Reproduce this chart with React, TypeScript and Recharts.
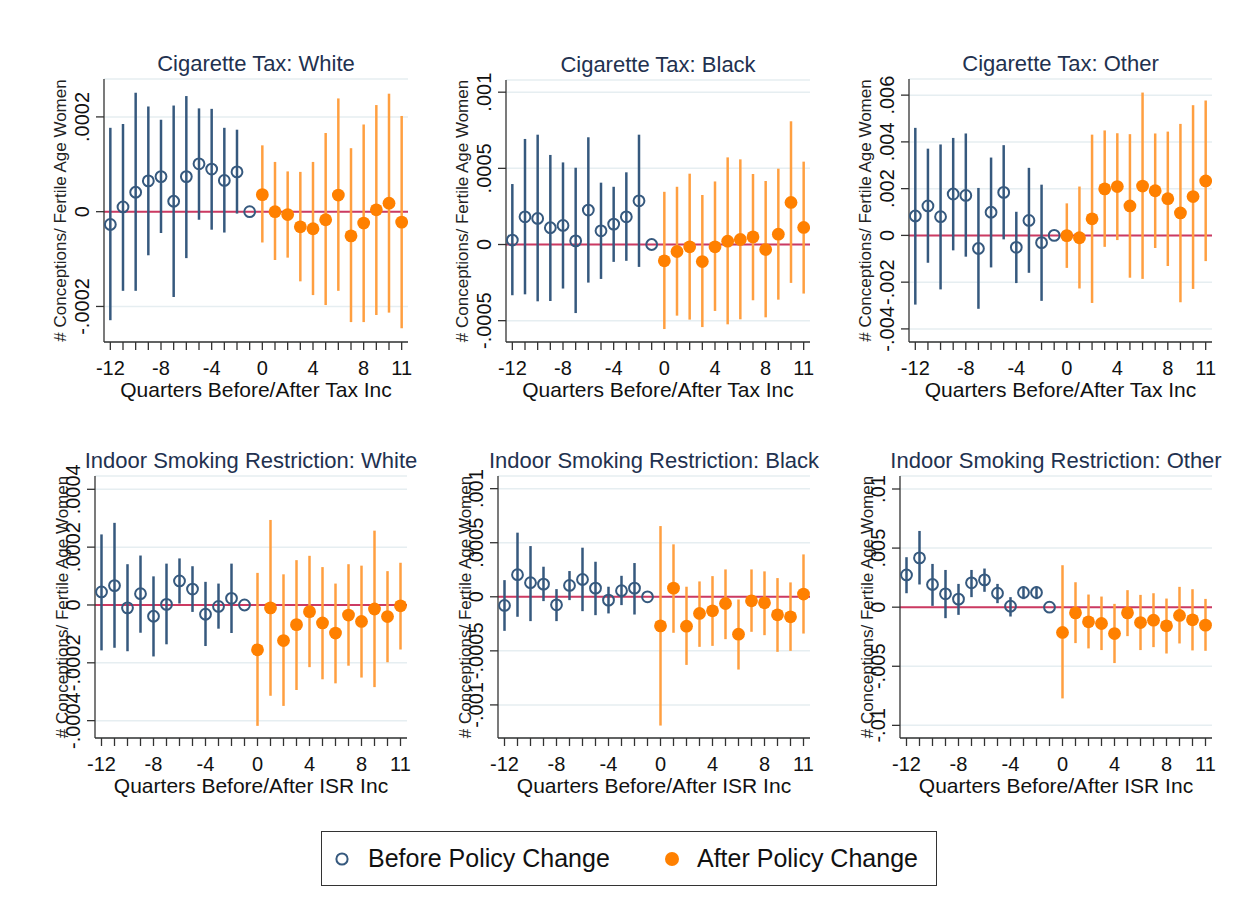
import React from 'react';
import { ScatterChart, Scatter, XAxis, YAxis, CartesianGrid, ReferenceLine, ErrorBar } from 'recharts';

const quarters = [-12, -11, -10, -9, -8, -7, -6, -5, -4, -3, -2, -1, 0, 1, 2, 3, 4, 5, 6, 7, 8, 9, 10, 11];
const xLabelQuarters = [-12, -8, -4, 0, 4, 8, 11];

// Cigarette tax, White (units of 1e-4)
const taxWhiteEst = [-0.27, 0.1, 0.41, 0.65, 0.74, 0.22, 0.74, 1.01, 0.9, 0.66, 0.84, 0, 0.36, 0.0, -0.06, -0.32, -0.36, -0.17, 0.35, -0.51, -0.24, 0.04, 0.18, -0.22];
const taxWhiteLo = [-2.29, -1.67, -1.67, -0.92, -0.45, -1.8, -0.98, -0.17, -0.38, -0.44, -0.04, 0, -0.65, -1.02, -0.97, -1.47, -1.76, -1.97, -1.67, -2.33, -2.33, -2.18, -2.13, -2.46];
const taxWhiteHi = [1.77, 1.85, 2.51, 2.22, 1.94, 2.24, 2.44, 2.18, 2.17, 1.77, 1.73, 0, 1.4, 1.05, 0.85, 0.84, 1.05, 1.66, 2.39, 1.34, 1.84, 2.25, 2.49, 2.02];
const taxWhiteTicks = [-2, 0, 2];
const taxWhiteTickLabels = ['-.0002', '0', '.0002'];

// Cigarette tax, Black (units of 1e-4)
const taxBlackEst = [0.29, 1.82, 1.71, 1.1, 1.25, 0.24, 2.26, 0.9, 1.34, 1.82, 2.87, 0, -1.07, -0.46, -0.15, -1.12, -0.15, 0.22, 0.33, 0.5, -0.33, 0.68, 2.76, 1.12];
const taxBlackLo = [-3.33, -3.27, -3.73, -3.71, -2.89, -4.5, -2.5, -2.26, -1.14, -1.07, -1.47, 0, -5.55, -4.67, -4.93, -5.42, -4.36, -5.24, -4.91, -3.66, -4.78, -3.62, -2.52, -3.22];
const taxBlackHi = [3.97, 6.93, 7.21, 5.88, 5.39, 5.04, 7.04, 4.06, 3.79, 4.74, 7.21, 0, 3.46, 3.79, 4.65, 3.25, 4.14, 5.72, 5.59, 4.63, 4.17, 4.98, 8.09, 5.44];
const taxBlackTicks = [-5, 0, 5, 10];
const taxBlackTickLabels = ['-.0005', '0', '.0005', '.001'];

// Cigarette tax, Other (units of 1e-3)
const taxOtherEst = [0.83, 1.26, 0.8, 1.77, 1.71, -0.56, 0.99, 1.84, -0.51, 0.64, -0.31, 0, -0.01, -0.1, 0.71, 1.99, 2.09, 1.26, 2.11, 1.91, 1.57, 0.96, 1.66, 2.33];
const taxOtherLo = [-2.96, -1.17, -2.31, -0.64, -0.91, -3.14, -1.37, -0.17, -2.04, -1.6, -2.8, 0, -1.39, -2.27, -2.89, -0.49, -0.2, -1.81, -1.86, -0.54, -1.31, -2.86, -2.29, -1.1];
const taxOtherHi = [4.6, 3.71, 3.89, 4.17, 4.36, 2.03, 3.33, 3.86, 1.01, 2.89, 2.17, 0, 1.37, 2.09, 4.31, 4.49, 4.37, 4.33, 6.11, 4.36, 4.44, 4.77, 5.57, 5.77];
const taxOtherTicks = [-4, -2, 0, 2, 4, 6];
const taxOtherTickLabels = ['-.004', '-.002', '0', '.002', '.004', '.006'];

// Indoor smoking restriction, White (units of 1e-4)
const isrWhiteEst = [0.45, 0.67, -0.1, 0.39, -0.39, 0.02, 0.83, 0.55, -0.32, -0.05, 0.23, 0, -1.55, -0.1, -1.23, -0.68, -0.23, -0.62, -0.97, -0.35, -0.57, -0.14, -0.4, -0.03];
const isrWhiteLo = [-1.57, -1.48, -1.6, -0.96, -1.78, -1.36, 0.05, -0.24, -1.42, -0.82, -0.97, 0, -4.18, -3.14, -3.49, -2.94, -2.15, -2.57, -2.71, -2.1, -2.51, -2.84, -1.98, -1.54];
const isrWhiteHi = [2.44, 2.84, 1.41, 1.71, 0.99, 1.43, 1.61, 1.34, 0.8, 0.74, 1.43, 0, 1.11, 2.94, 1.06, 1.55, 1.7, 1.31, 0.74, 1.41, 1.36, 2.57, 1.17, 1.46];
const isrWhiteTicks = [-4, -2, 0, 2, 4];
const isrWhiteTickLabels = ['-.0004', '-.0002', '0', '.0002', '.0004'];

// Indoor smoking restriction, Black (units of 1e-4)
const isrBlackEst = [-0.8, 2.04, 1.3, 1.17, -0.74, 1.05, 1.6, 0.8, -0.31, 0.56, 0.8, 0, -2.69, 0.8, -2.72, -1.54, -1.3, -0.62, -3.46, -0.37, -0.56, -1.67, -1.85, 0.25];
const isrBlackLo = [-3.15, -1.85, -2.25, -0.4, -2.25, -0.31, -1.33, -1.7, -1.54, -0.77, -1.64, 0, -11.91, -3.33, -6.3, -4.63, -4.54, -3.92, -6.73, -3.24, -3.55, -5.09, -5.0, -3.4];
const isrBlackHi = [1.54, 5.93, 4.69, 2.78, 0.71, 2.38, 4.54, 3.24, 0.93, 1.94, 3.12, 0, 6.54, 4.85, 0.93, 1.42, 1.91, 2.53, -0.25, 2.53, 2.35, 1.73, 1.33, 3.92];
const isrBlackTicks = [-10, -5, 0, 5, 10];
const isrBlackTickLabels = ['-.001', '-.0005', '0', '.0005', '.001'];

// Indoor smoking restriction, Other (units of 1e-3)
const isrOtherEst = [2.73, 4.17, 1.92, 1.13, 0.68, 2.06, 2.31, 1.18, 0.08, 1.24, 1.24, 0, -2.14, -0.48, -1.24, -1.38, -2.23, -0.48, -1.3, -1.1, -1.58, -0.7, -1.07, -1.52];
const isrOtherLo = [1.18, 1.92, 0.11, -0.93, -0.65, 0.85, 1.3, 0.34, -0.79, 0.68, 0.68, 0, -7.72, -3.04, -3.49, -3.63, -4.73, -2.45, -3.63, -3.38, -3.92, -3.07, -3.66, -3.69];
const isrOtherHi = [4.23, 6.45, 3.66, 3.15, 1.97, 3.15, 3.27, 1.97, 0.85, 1.75, 1.75, 0, 3.55, 2.11, 1.07, 0.9, 0.28, 1.44, 1.04, 1.18, 0.73, 1.72, 1.52, 0.7];
const isrOtherTicks = [-10, -5, 0, 5, 10];
const isrOtherTickLabels = ['-.01', '-.005', '0', '.005', '.01'];

const Y_TITLE = '# Conceptions/ Fertile Age Women';
const NAVY = '#36597e';
const ORANGE = '#ff8000';
const ORANGE_CI = '#ff9f40';
const FONT = '"Liberation Sans", Arial, sans-serif';

const buildRows = (est: number[], lo: number[], hi: number[]) => {
  const rows = quarters.map((q, i) => ({ q, est: est[i], err: [est[i] - lo[i], hi[i] - est[i]] }));
  return { before: rows.filter((r) => r.q < 0), after: rows.filter((r) => r.q >= 0) };
};

const panels = [
  { title: 'Cigarette Tax: White', xTitle: 'Quarters Before/After Tax Inc', est: taxWhiteEst, lo: taxWhiteLo, hi: taxWhiteHi, ticks: taxWhiteTicks, tickLabels: taxWhiteTickLabels, domain: [-2.75, 2.8], rect: [104, 79, 408, 342], row: 0 },
  { title: 'Cigarette Tax: Black', xTitle: 'Quarters Before/After Tax Inc', est: taxBlackEst, lo: taxBlackLo, hi: taxBlackHi, ticks: taxBlackTicks, tickLabels: taxBlackTickLabels, domain: [-6.4, 10.8], rect: [506, 80, 810, 342], row: 0 },
  { title: 'Cigarette Tax: Other', xTitle: 'Quarters Before/After Tax Inc', est: taxOtherEst, lo: taxOtherLo, hi: taxOtherHi, ticks: taxOtherTicks, tickLabels: taxOtherTickLabels, domain: [-4.56, 6.69], rect: [909, 79, 1212, 342], row: 0 },
  { title: 'Indoor Smoking Restriction: White', xTitle: 'Quarters Before/After ISR Inc', est: isrWhiteEst, lo: isrWhiteLo, hi: isrWhiteHi, ticks: isrWhiteTicks, tickLabels: isrWhiteTickLabels, domain: [-4.6, 4.46], rect: [95, 476, 407, 738], row: 1 },
  { title: 'Indoor Smoking Restriction: Black', xTitle: 'Quarters Before/After ISR Inc', est: isrBlackEst, lo: isrBlackLo, hi: isrBlackHi, ticks: isrBlackTicks, tickLabels: isrBlackTickLabels, domain: [-13.06, 11.17], rect: [498, 476, 810, 738], row: 1 },
  { title: 'Indoor Smoking Restriction: Other', xTitle: 'Quarters Before/After ISR Inc', est: isrOtherEst, lo: isrOtherLo, hi: isrOtherHi, ticks: isrOtherTicks, tickLabels: isrOtherTickLabels, domain: [-11.07, 11.1], rect: [900, 476, 1212, 738], row: 1 },
];

const HollowDot = (props: any) => (
  <circle cx={props.cx} cy={props.cy} r={5.4} fill="none" stroke={NAVY} strokeWidth={2} />
);
const FilledDot = (props: any) => <circle cx={props.cx} cy={props.cy} r={6.4} fill={ORANGE} />;

function Panel({ p }: { p: (typeof panels)[number] }) {
  const [L, T, R, B] = p.rect;
  const plotW = R - L;
  const plotH = B - T;
  const LEFT = 60;
  const TOP = 40;
  const { before, after } = buildRows(p.est, p.lo, p.hi);
  const titleOffset = p.row === 0 ? 44 : 33;

  const xTick = (props: any) => {
    const { x, y, payload } = props;
    if (!xLabelQuarters.includes(payload.value)) return null;
    return (
      <text x={x} y={y + 23} textAnchor="middle" fontSize={20} fill="#111" fontFamily={FONT}>
        {payload.value}
      </text>
    );
  };
  const yTick = (props: any) => {
    const { x, y, payload } = props;
    const i = p.ticks.indexOf(payload.value);
    const cx = x - 12;
    return (
      <text x={cx} y={y} transform={`rotate(-90 ${cx} ${y})`} textAnchor="middle" dominantBaseline="central" fontSize={20} fill="#111" fontFamily={FONT}>
        {p.tickLabels[i]}
      </text>
    );
  };
  const yLabel = () => {
    const cx = LEFT - titleOffset;
    const cy = TOP + plotH / 2;
    return (
      <text x={cx} y={cy} transform={`rotate(-90 ${cx} ${cy})`} textAnchor="middle" dominantBaseline="central" fontSize={17} fill="#222" fontFamily={FONT}>
        {Y_TITLE}
      </text>
    );
  };
  const xLabel = () => (
    <text x={LEFT + plotW / 2} y={TOP + plotH + 55} textAnchor="middle" fontSize={21} fill="#111" fontFamily={FONT}>
      {p.xTitle}
    </text>
  );

  return (
    <>
      <div style={{ position: 'absolute', left: L - LEFT, top: T - TOP }}>
        <ScatterChart width={plotW + LEFT + 5} height={plotH + TOP + 65} margin={{ top: TOP, right: 5, bottom: 0, left: 0 }}>
          <CartesianGrid vertical={false} stroke="#e6eef1" strokeWidth={1.5} />
          <XAxis
            type="number"
            dataKey="q"
            domain={[-12.5, 11.5]}
            ticks={quarters}
            interval={0}
            allowDataOverflow
            height={65}
            tickSize={8}
            tick={xTick}
            tickLine={{ stroke: '#333', strokeWidth: 1.3 }}
            axisLine={{ stroke: '#333', strokeWidth: 1.3 }}
            label={xLabel}
          />
          <YAxis
            type="number"
            dataKey="est"
            domain={p.domain}
            ticks={p.ticks}
            interval={0}
            allowDataOverflow
            width={LEFT}
            tickSize={8}
            tick={yTick}
            tickLine={{ stroke: '#333', strokeWidth: 1.3 }}
            axisLine={{ stroke: '#333', strokeWidth: 1.3 }}
            label={yLabel}
          />
          <ReferenceLine y={0} stroke="#cc3a62" strokeWidth={2} />
          <Scatter data={before} shape={HollowDot} isAnimationActive={false}>
            <ErrorBar dataKey="err" direction="y" width={0} stroke={NAVY} strokeWidth={2.5} isAnimationActive={false} />
          </Scatter>
          <Scatter data={after} shape={FilledDot} isAnimationActive={false}>
            <ErrorBar dataKey="err" direction="y" width={0} stroke={ORANGE_CI} strokeWidth={2.5} isAnimationActive={false} />
          </Scatter>
        </ScatterChart>
      </div>
      <div
        style={{
          position: 'absolute',
          left: L + plotW / 2 - 300,
          width: 600,
          top: T - 26,
          textAlign: 'center',
          fontSize: 22,
          lineHeight: '22px',
          color: '#22314f',
          whiteSpace: 'nowrap',
          pointerEvents: 'none',
        }}
      >
        {p.title}
      </div>
    </>
  );
}

export default function App() {
  return (
    <div style={{ position: 'relative', width: 1251, height: 909, background: '#fff', fontFamily: FONT, overflow: 'hidden' }}>
      <style>{'body{margin:0}'}</style>
      {panels.map((p) => (
        <Panel key={p.title} p={p} />
      ))}
      {/* Legend */}
      <div
        style={{
          position: 'absolute',
          left: 321,
          top: 831,
          width: 616,
          height: 55,
          boxSizing: 'border-box',
          border: '1.5px solid #333',
          fontSize: 25,
          color: '#111',
        }}
      >
        <svg style={{ position: 'absolute', left: 11, top: 18 }} width={18} height={18}>
          <circle cx={9} cy={9} r={5.6} fill="none" stroke={NAVY} strokeWidth={2} />
        </svg>
        <span style={{ position: 'absolute', left: 46, top: 11, lineHeight: '30px', whiteSpace: 'nowrap' }}>Before Policy Change</span>
        <svg style={{ position: 'absolute', left: 341, top: 18 }} width={18} height={18}>
          <circle cx={9} cy={9} r={7} fill={ORANGE} />
        </svg>
        <span style={{ position: 'absolute', left: 375, top: 11, lineHeight: '30px', whiteSpace: 'nowrap' }}>After Policy Change</span>
      </div>
    </div>
  );
}
